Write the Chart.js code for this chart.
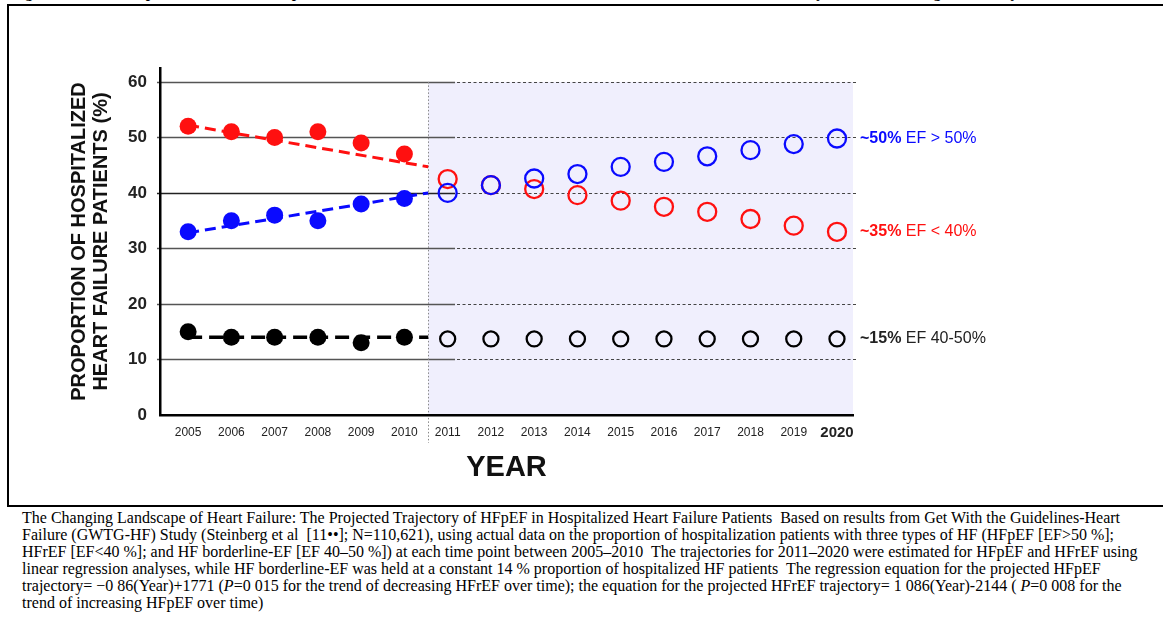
<!DOCTYPE html>
<html>
<head>
<meta charset="utf-8">
<script src="https://cdn.jsdelivr.net/npm/chart.js@4.4.1/dist/chart.umd.min.js"></script>
<style>
  body { margin: 0; background: #fff; width: 1163px; height: 620px; overflow: hidden; position: relative; }
  #chartCanvas { position: absolute; left: 0; top: 0; }
  .rule { position: absolute; background: #000; }
  #figTitle { position: absolute; left: 12px; top: -13.6px; width: 1066px; font: bold 15px "Liberation Serif", "Times New Roman", serif; line-height: 15px; white-space: nowrap; text-align: justify; text-align-last: justify; }
  #caption { position: absolute; left: 22px; top: 509px; font: 16px "Liberation Serif", "Times New Roman", serif; line-height: 17px; color: #000; }
  #caption div { white-space: pre; }
</style>
</head>
<body>
<div id="figTitle">Figure 1  Proportion of Hospitalized Heart Failure Patients with Heart Failure by EF Categories by Year</div>
<div class="rule" style="left:7px;top:4px;width:1156px;height:2px"></div>
<div class="rule" style="left:7px;top:4px;width:2px;height:503px"></div>
<div class="rule" style="left:7px;top:505px;width:1156px;height:1.5px"></div>
<canvas id="chartCanvas" width="1163" height="505"></canvas>
<div id="caption">
<div>The Changing Landscape of Heart Failure: The Projected Trajectory of HFpEF in Hospitalized Heart Failure Patients  Based on results from Get With the Guidelines-Heart</div>
<div>Failure (GWTG-HF) Study (Steinberg et al  [11••]; N=110,621), using actual data on the proportion of hospitalization patients with three types of HF (HFpEF [EF&gt;50 %];</div>
<div>HFrEF [EF&lt;40 %]; and HF borderline-EF [EF 40–50 %]) at each time point between 2005–2010  The trajectories for 2011–2020 were estimated for HFpEF and HFrEF using</div>
<div>linear regression analyses, while HF borderline-EF was held at a constant 14 % proportion of hospitalized HF patients  The regression equation for the projected HFpEF</div>
<div>trajectory= −0 86(Year)+1771 (<i>P</i>=0 015 for the trend of decreasing HFrEF over time); the equation for the projected HFrEF trajectory= 1 086(Year)-2144 ( <i>P</i>=0 008 for the</div>
<div>trend of increasing HFpEF over time)</div>
</div>
<script>
// observed years and projected years
const actualYears = [2005, 2006, 2007, 2008, 2009, 2010];
const projYears = [2011, 2012, 2013, 2014, 2015, 2016, 2017, 2018, 2019, 2020];
const yearTicks = [2005, 2006, 2007, 2008, 2009, 2010, 2011, 2012, 2013, 2014, 2015, 2016, 2017, 2018, 2019, 2020];
const yTicks = [0, 10, 20, 30, 40, 50, 60];

// proportions (%)
const hfpefActual = [33, 35, 36, 35, 38, 39];
const hfrefActual = [52, 51, 50, 51, 49, 47];
const borderActual = [15, 14, 14, 14, 13, 14];

const hfpefProj = [40.0, 41.4, 42.6, 43.4, 44.7, 45.6, 46.6, 47.7, 48.8, 49.8];
const hfrefProj = [42.5, 41.4, 40.7, 39.6, 38.6, 37.5, 36.6, 35.3, 34.1, 33.0];
const borderProj = [13.7, 13.7, 13.7, 13.7, 13.7, 13.7, 13.7, 13.7, 13.7, 13.7];

// fitted lines over the observed period
const trendYears = [2005, 2010.55];
const hfpefTrend = [32.8, 40.0];
const hfrefTrend = [52.2, 44.7];
const borderTrend = [14, 14];

const endLabelsBold = ['~50%', '~35%', '~15%'];
const endLabelsRest = ['EF > 50%', 'EF < 40%', 'EF 40-50%'];

const BLUE = '#0a0aff';
const RED = '#ff1010';
const BLACK = '#000000';
const SANS = '"Liberation Sans", Arial, Helvetica, sans-serif';

const pts = (xs, ys) => xs.map((x, i) => ({ x: x, y: ys[i] }));

const filled = (ys, color) => ({
    data: pts(actualYears, ys),
    showLine: false,
    pointRadius: 8.5,
    pointBackgroundColor: color,
    pointBorderColor: color,
    pointBorderWidth: 0
});
const hollow = (ys, color, r) => ({
    data: pts(projYears, ys),
    showLine: false,
    pointRadius: r,
    pointBackgroundColor: 'rgba(0,0,0,0)',
    pointBorderColor: color,
    pointBorderWidth: 2.3
});
const trend = (ys, color, dash, w) => ({
    data: pts(trendYears, ys),
    showLine: true,
    borderColor: color,
    borderWidth: w,
    borderDash: dash,
    pointRadius: 0
});

// shaded projection zone + split gridlines, drawn under the axes
const backdrop = {
    id: 'backdrop',
    beforeDraw(chart) {
        const { ctx, chartArea, scales } = chart;
        const x = scales.x, y = scales.y;
        const xs = x.getPixelForValue(2010.55);
        const yTop = y.getPixelForValue(60);
        ctx.save();
        ctx.fillStyle = '#f0effd';
        ctx.fillRect(xs, yTop, chartArea.right - xs, chartArea.bottom - yTop);
        const xSplit = x.getPixelForValue(2011.17);
        yTicks.slice(1).forEach(v => {
            const py = Math.round(y.getPixelForValue(v)) + 0.5;
            ctx.setLineDash([]);
            ctx.strokeStyle = v === 40 ? '#222' : '#555';
            ctx.lineWidth = 1.5;
            ctx.beginPath();
            ctx.moveTo(chartArea.left - 3, py);
            ctx.lineTo(xSplit, py);
            ctx.stroke();
            ctx.setLineDash([3, 2.5]);
            ctx.strokeStyle = '#444';
            ctx.lineWidth = 1.2;
            ctx.beginPath();
            ctx.moveTo(xSplit + 2, py);
            ctx.lineTo(chartArea.right + 3, py);
            ctx.stroke();
        });
        ctx.setLineDash([1.5, 2]);
        ctx.strokeStyle = '#888';
        ctx.lineWidth = 1;
        ctx.beginPath();
        ctx.moveTo(Math.round(xs) + 0.5, yTop);
        ctx.lineTo(Math.round(xs) + 0.5, chartArea.bottom + 28);
        ctx.stroke();
        ctx.restore();
    },
    afterDraw(chart) {
        const { ctx, chartArea, scales } = chart;
        const ends = [hfpefProj, hfrefProj, borderProj];
        const colors = [BLUE, RED, '#222'];
        ctx.save();
        ctx.textBaseline = 'middle';
        ends.forEach((arr, i) => {
            const py = scales.y.getPixelForValue(arr[arr.length - 1]);
            let px = chartArea.right + 7;
            ctx.fillStyle = colors[i];
            ctx.font = 'bold 16px ' + SANS;
            ctx.fillText(endLabelsBold[i], px, py);
            px += ctx.measureText(endLabelsBold[i] + ' ').width;
            ctx.font = '16px ' + SANS;
            ctx.fillText(endLabelsRest[i], px, py);
        });
        ctx.restore();
    }
};

new Chart(document.getElementById('chartCanvas'), {
    type: 'scatter',
    data: {
        datasets: [
            filled(hfpefActual, BLUE),
            filled(hfrefActual, RED),
            filled(borderActual, BLACK),
            hollow(hfpefProj, BLUE, 9),
            hollow(hfrefProj, RED, 9),
            hollow(borderProj, BLACK, 7.5),
            trend(hfpefTrend, BLUE, [11, 6], 3),
            trend(hfrefTrend, RED, [11, 6], 3),
            trend(borderTrend, BLACK, [14, 7], 3.5)
        ]
    },
    options: {
        responsive: false,
        animation: false,
        devicePixelRatio: 1,
        layout: { padding: { left: 0, top: 68, right: 310, bottom: 0 } },
        plugins: { legend: { display: false }, tooltip: { enabled: false } },
        scales: {
            x: {
                type: 'linear',
                min: 2004.35,
                max: 2020.37,
                afterFit: s => { s.height = 90; },
                afterBuildTicks: s => { s.ticks = yearTicks.map(v => ({ value: v })); },
                grid: { display: false, drawTicks: false },
                border: { display: true, color: '#000', width: 2.5 },
                ticks: {
                    autoSkip: false,
                    maxRotation: 0,
                    padding: 10,
                    color: '#222',
                    callback: v => String(v),
                    font: c => c.tick && c.tick.value === 2020
                        ? { family: SANS, size: 15, weight: 'bold', lineHeight: 1.0 }
                        : { family: SANS, size: 12, lineHeight: 1.2 }
                },
                title: {
                    display: true,
                    text: 'YEAR',
                    color: '#111',
                    font: { family: SANS, size: 29, weight: 'bold', lineHeight: 1.2 },
                    padding: { top: 0, bottom: 20 }
                }
            },
            y: {
                min: 0,
                max: 62.5,
                afterFit: s => { s.width = 160; },
                afterBuildTicks: s => { s.ticks = yTicks.map(v => ({ value: v })); },
                grid: { display: false, drawTicks: false },
                border: { display: true, color: '#000', width: 2.5 },
                ticks: {
                    padding: 13,
                    color: '#222',
                    font: { family: SANS, size: 17, weight: 'bold' }
                },
                title: {
                    display: true,
                    text: ['PROPORTION OF HOSPITALIZED', 'HEART FAILURE PATIENTS (%)'],
                    color: '#111',
                    font: { family: SANS, size: 20, weight: 'bold', lineHeight: 1.12 },
                    padding: { top: 68, bottom: 0 }
                }
            }
        }
    },
    plugins: [backdrop]
});
</script>
</body>
</html>
